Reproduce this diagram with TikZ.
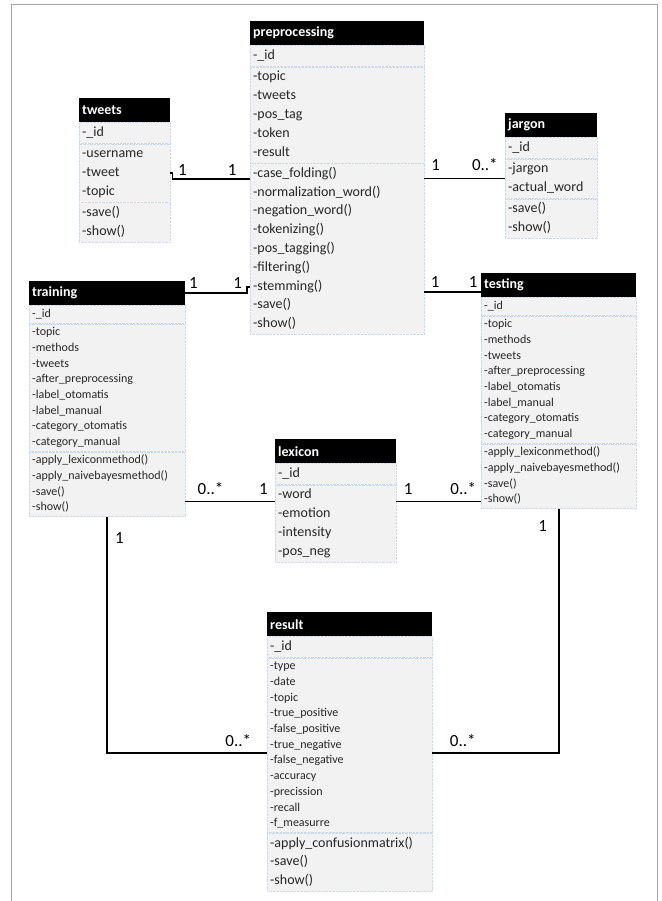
\documentclass[tikz,border=0pt]{standalone}
\usepackage{fontspec}
\setmainfont{Carlito}
\usepackage{tikz}
\usetikzlibrary{positioning}
\definecolor{boxfill}{HTML}{F2F2F2}
\definecolor{sepblue}{HTML}{C9DAF0}
\definecolor{framegray}{HTML}{A6A6A6}
\newcommand{\classrows}[1]{\begin{tabular}{@{}l@{}}#1\end{tabular}}

\begin{document}
\begin{tikzpicture}[
  x=1pt, y=-1pt,
  hdr/.style={anchor=north west,fill=black,text=white,inner xsep=3pt,inner ysep=0pt,
              minimum height=24pt,text width=#1,align=left,
              font=\fontsize{14}{17}\selectfont\bfseries},
  bigrow/.style={fill=boxfill,draw=sepblue,densely dotted,inner xsep=3pt,inner ysep=1pt,
                 text width=#1,align=left,text=black!85,
                 font=\fontsize{14}{18.8}\selectfont},
  smallrow/.style={bigrow=#1,font=\fontsize{12}{15.7}\selectfont},
  assoc/.style={line width=1.6pt},
  mult/.style={font=\fontsize{17}{20}\selectfont,inner sep=1pt},
]
\useasboundingbox (0,0) rectangle (661,901);
\draw[framegray,line width=1pt] (11,901) -- (11,5) -- (657,5) -- (657,901);

% preprocessing
\node[hdr=168] (pp) at (250,21) {preprocessing};
\node[bigrow=168,below=0pt of pp] (pp-id) {\classrows{-\_id}};
\node[bigrow=168,below=0pt of pp-id] (pp-att) {\classrows{-topic\\-tweets\\-pos\_tag\\-token\\-result}};
\node[bigrow=168,below=0pt of pp-att] (pp-op) {\classrows{-case\_folding()\\-normalization\_word()\\
  -negation\_word()\\-tokenizing()\\-pos\_tagging()\\-filtering()\\-stemming()\\-save()\\-show()}};

% tweets
\node[hdr=85] (tw) at (79,98) {tweets};
\node[bigrow=85,below=0pt of tw] (tw-id) {\classrows{-\_id}};
\node[bigrow=85,below=0pt of tw-id] (tw-att) {\classrows{-username\\-tweet\\-topic}};
\node[bigrow=85,below=0pt of tw-att] (tw-op) {\classrows{-save()\\-show()}};

% jargon
\node[hdr=86] (jg) at (505,113) {jargon};
\node[bigrow=86,below=0pt of jg] (jg-id) {\classrows{-\_id}};
\node[bigrow=86,below=0pt of jg-id] (jg-att) {\classrows{-jargon\\-actual\_word}};
\node[bigrow=86,below=0pt of jg-att] (jg-op) {\classrows{-save()\\-show()}};

% training
\node[hdr=150] (tr) at (29,281) {training};
\node[smallrow=150,below=0pt of tr] (tr-id) {\classrows{-\_id}};
\node[smallrow=150,below=0pt of tr-id] (tr-att) {\classrows{-topic\\-methods\\-tweets\\-after\_preprocessing\\
  -label\_otomatis\\-label\_manual\\-category\_otomatis\\-category\_manual}};
\node[smallrow=150,below=0pt of tr-att] (tr-op) {\classrows{-apply\_lexiconmethod()\\-apply\_naivebayesmethod()\\-save()\\-show()}};

% testing
\node[hdr=149] (te) at (481,273) {testing};
\node[smallrow=149,below=0pt of te] (te-id) {\classrows{-\_id}};
\node[smallrow=149,below=0pt of te-id] (te-att) {\classrows{-topic\\-methods\\-tweets\\-after\_preprocessing\\
  -label\_otomatis\\-label\_manual\\-category\_otomatis\\-category\_manual}};
\node[smallrow=149,below=0pt of te-att] (te-op) {\classrows{-apply\_lexiconmethod()\\-apply\_naivebayesmethod()\\-save()\\-show()}};

% lexicon
\node[hdr=115] (lx) at (275,439) {lexicon};
\node[bigrow=115,below=0pt of lx] (lx-id) {\classrows{-\_id}};
\node[bigrow=115,below=0pt of lx-id] (lx-att) {\classrows{-word\\-emotion\\-intensity\\-pos\_neg}};

% result
\node[hdr=159] (rs) at (267,612) {result};
\node[bigrow=159,below=0pt of rs] (rs-id) {\classrows{-\_id}};
\node[smallrow=159,below=0pt of rs-id] (rs-att) {\classrows{-type\\-date\\-topic\\-true\_positive\\-false\_positive\\
  -true\_negative\\-false\_negative\\-accuracy\\-precission\\-recall\\-f\_measurre}};
\node[bigrow=159,below=0pt of rs-att] (rs-op) {\classrows{-apply\_confusionmatrix()\\-save()\\-show()}};

% associations
\draw[assoc] (tw-att.east) -| ([xshift=2pt,yshift=-6pt]tw-att.east)
  -- node[mult,pos=0.13,above=2pt]{1} node[mult,pos=0.77,above=2pt]{1}
  ([yshift=-6pt]tw-att.east -| pp-op.west);
\draw[assoc] (jg-att.west -| pp-op.east)
  -- node[mult,pos=0.14,above=6pt]{1} node[mult,pos=0.75,above=6pt]{0..*} (jg-att.west);
\draw[assoc] (tr.east)
  -- node[mult,pos=0.13,above=3pt]{1} node[mult,pos=0.85,above=3pt]{1}
  ([xshift=-3pt]tr.east -| pp-op.west) |- ([yshift=6pt]tr.east -| pp-op.west);
\draw[assoc] ([yshift=-7pt]te.west -| pp-op.east)
  -- node[mult,pos=0.19,above=3pt]{1} node[mult,pos=0.86,above=3pt]{1} ([yshift=-7pt]te.west);
\draw[assoc] ([yshift=-17pt]lx-id.south west -| tr-op.east)
  -- node[mult,pos=0.28,above=5pt]{0..*} node[mult,pos=0.87,above=5pt]{1} ([yshift=-17pt]lx-id.south west);
\draw[assoc] ([yshift=-17pt]lx-id.south east)
  -- node[mult,pos=0.14,above=5pt]{1} node[mult,pos=0.79,above=5pt]{0..*} ([yshift=-17pt]lx-id.south east -| te-op.west);
\draw[assoc] (tr-op.south)
  |- node[mult,pos=0.045,right=6pt]{1} node[mult,pos=0.91,above=5pt]{0..*} ([yshift=-8pt]rs-att.west);
\draw[assoc] (te-op.south)
  |- node[mult,pos=0.035,left=10pt]{1} node[mult,pos=0.88,above=5pt]{0..*} ([yshift=-8pt]rs-att.east);
\end{tikzpicture}
\end{document}
